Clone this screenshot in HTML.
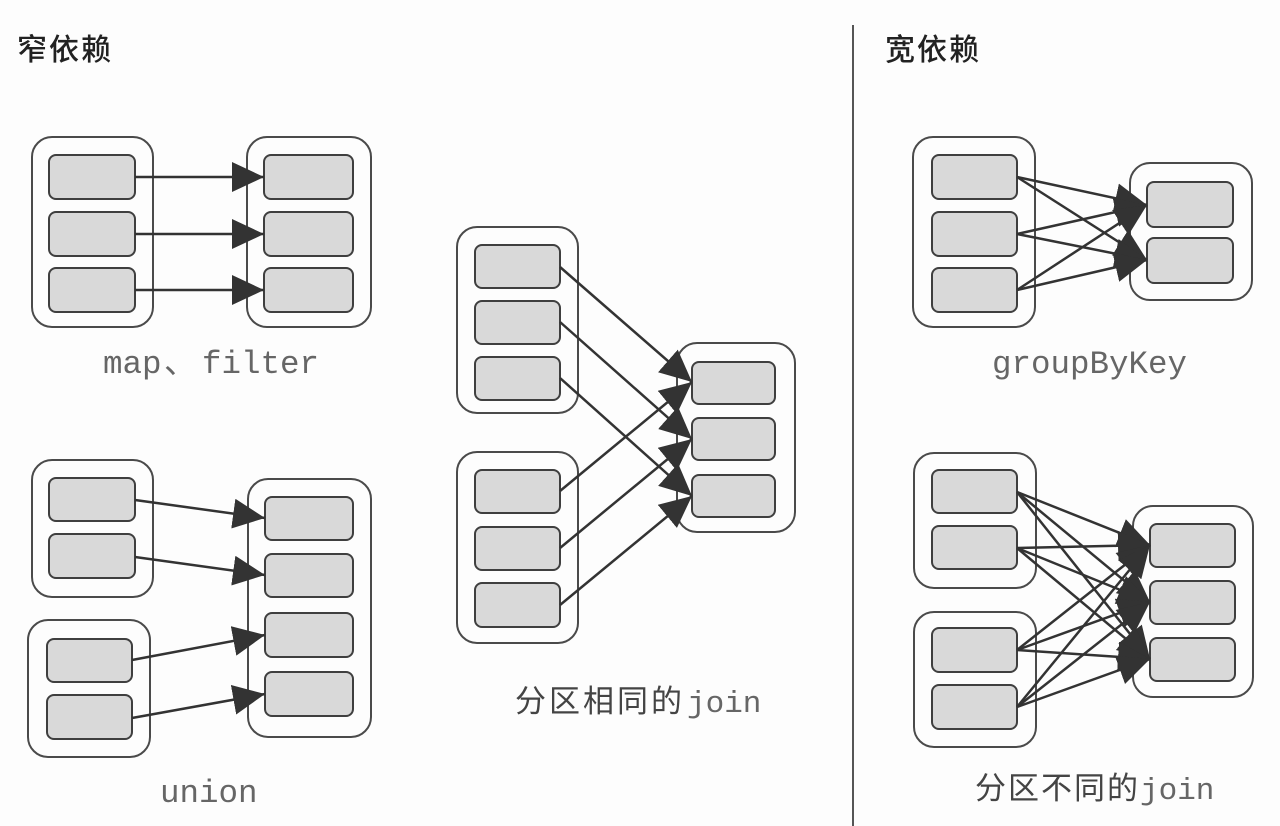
<!DOCTYPE html>
<html>
<head>
<meta charset="utf-8">
<style>
  html,body{margin:0;padding:0;background:#fdfdfd;}
  svg{display:block;}
  .ob{fill:#fdfdfd;stroke:#4a4a4a;stroke-width:2;}
  .ib{fill:#d9d9d9;stroke:#3f3f3f;stroke-width:2;}
  .ar{stroke:#333;stroke-width:2.5;fill:none;marker-end:url(#ah);}
  .ttl{font-family:"Liberation Sans","Noto Sans CJK SC",sans-serif;font-size:30px;fill:#222;letter-spacing:2px;font-weight:500;}
  .mono{font-family:"Liberation Mono","Noto Sans CJK SC",monospace;font-size:32.5px;fill:#666;}
  .cjk{font-family:"Liberation Sans","Noto Sans CJK SC",sans-serif;font-size:31px;fill:#444;}
</style>
</head>
<body>
<svg width="1280" height="826" viewBox="0 0 1280 826" xmlns="http://www.w3.org/2000/svg">
  <defs>
    <marker id="ah" markerUnits="userSpaceOnUse" markerWidth="34" markerHeight="32" refX="32" refY="15" orient="auto">
      <path d="M0,0 L32,15 L0,30 Z" fill="#333"/>
    </marker>
  </defs>

  <!-- titles -->
  <text class="ttl" x="17" y="60">窄依赖</text>
  <text class="ttl" x="885" y="60">宽依赖</text>

  <!-- divider -->
  <line x1="853" y1="25" x2="853" y2="826" stroke="#555" stroke-width="2"/>

  <!-- ========== map, filter ========== -->
  <rect class="ob" x="32" y="137" width="121" height="190" rx="20"/>
  <rect class="ob" x="247" y="137" width="124" height="190" rx="20"/>
  <rect class="ib" x="49" y="155" width="86" height="44" rx="7"/>
  <rect class="ib" x="49" y="212" width="86" height="44" rx="7"/>
  <rect class="ib" x="49" y="268" width="86" height="44" rx="7"/>
  <rect class="ib" x="264" y="155" width="89" height="44" rx="7"/>
  <rect class="ib" x="264" y="212" width="89" height="44" rx="7"/>
  <rect class="ib" x="264" y="268" width="89" height="44" rx="7"/>
  <line class="ar" x1="135" y1="177" x2="264" y2="177"/>
  <line class="ar" x1="135" y1="234" x2="264" y2="234"/>
  <line class="ar" x1="135" y1="290" x2="264" y2="290"/>
  <text class="mono" y="373"><tspan x="103">map</tspan><tspan x="164">、</tspan><tspan x="202">filter</tspan></text>

  <!-- ========== union ========== -->
  <rect class="ob" x="32" y="460" width="121" height="137" rx="20"/>
  <rect class="ob" x="28" y="620" width="122" height="137" rx="20"/>
  <rect class="ob" x="248" y="479" width="123" height="258" rx="20"/>
  <rect class="ib" x="49" y="478" width="86" height="43" rx="7"/>
  <rect class="ib" x="49" y="534" width="86" height="44" rx="7"/>
  <rect class="ib" x="47" y="639" width="85" height="43" rx="7"/>
  <rect class="ib" x="47" y="695" width="85" height="44" rx="7"/>
  <rect class="ib" x="265" y="497" width="88" height="43" rx="7"/>
  <rect class="ib" x="265" y="554" width="88" height="43" rx="7"/>
  <rect class="ib" x="265" y="613" width="88" height="44" rx="7"/>
  <rect class="ib" x="265" y="672" width="88" height="44" rx="7"/>
  <line class="ar" x1="135" y1="500" x2="265" y2="518"/>
  <line class="ar" x1="135" y1="557" x2="265" y2="575"/>
  <line class="ar" x1="132" y1="660" x2="265" y2="635"/>
  <line class="ar" x1="132" y1="718" x2="265" y2="694"/>
  <text class="mono" x="160" y="802">union</text>

  <!-- ========== join same partition ========== -->
  <rect class="ob" x="457" y="227" width="121" height="186" rx="20"/>
  <rect class="ob" x="457" y="452" width="121" height="191" rx="20"/>
  <rect class="ob" x="677" y="343" width="118" height="189" rx="20"/>
  <rect class="ib" x="475" y="245" width="85" height="43" rx="7"/>
  <rect class="ib" x="475" y="301" width="85" height="43" rx="7"/>
  <rect class="ib" x="475" y="357" width="85" height="43" rx="7"/>
  <rect class="ib" x="475" y="470" width="85" height="43" rx="7"/>
  <rect class="ib" x="475" y="527" width="85" height="43" rx="7"/>
  <rect class="ib" x="475" y="583" width="85" height="44" rx="7"/>
  <rect class="ib" x="692" y="362" width="83" height="42" rx="7"/>
  <rect class="ib" x="692" y="418" width="83" height="42" rx="7"/>
  <rect class="ib" x="692" y="475" width="83" height="42" rx="7"/>
  <line class="ar" x1="560" y1="267" x2="692" y2="382"/>
  <line class="ar" x1="560" y1="322" x2="692" y2="439"/>
  <line class="ar" x1="560" y1="378" x2="692" y2="496"/>
  <line class="ar" x1="560" y1="491" x2="692" y2="382"/>
  <line class="ar" x1="560" y1="548" x2="692" y2="439"/>
  <line class="ar" x1="560" y1="605" x2="692" y2="496"/>
  <text class="cjk" y="712"><tspan x="515" letter-spacing="3">分区相同的</tspan><tspan class="mono" x="687" style="font-size:31px">join</tspan></text>

  <!-- ========== groupByKey ========== -->
  <rect class="ob" x="913" y="137" width="122" height="190" rx="20"/>
  <rect class="ob" x="1130" y="163" width="122" height="137" rx="20"/>
  <rect class="ib" x="932" y="155" width="85" height="44" rx="7"/>
  <rect class="ib" x="932" y="212" width="85" height="44" rx="7"/>
  <rect class="ib" x="932" y="268" width="85" height="44" rx="7"/>
  <rect class="ib" x="1147" y="182" width="86" height="45" rx="7"/>
  <rect class="ib" x="1147" y="238" width="86" height="45" rx="7"/>
  <line class="ar" x1="1017" y1="177" x2="1147" y2="205"/>
  <line class="ar" x1="1017" y1="177" x2="1147" y2="260"/>
  <line class="ar" x1="1017" y1="234" x2="1147" y2="205"/>
  <line class="ar" x1="1017" y1="234" x2="1147" y2="260"/>
  <line class="ar" x1="1017" y1="290" x2="1147" y2="205"/>
  <line class="ar" x1="1017" y1="290" x2="1147" y2="260"/>
  <text class="mono" x="992" y="373">groupByKey</text>

  <!-- ========== join different partition ========== -->
  <rect class="ob" x="914" y="453" width="122" height="135" rx="20"/>
  <rect class="ob" x="914" y="612" width="122" height="135" rx="20"/>
  <rect class="ob" x="1133" y="506" width="120" height="191" rx="20"/>
  <rect class="ib" x="932" y="470" width="85" height="43" rx="7"/>
  <rect class="ib" x="932" y="526" width="85" height="43" rx="7"/>
  <rect class="ib" x="932" y="628" width="85" height="44" rx="7"/>
  <rect class="ib" x="932" y="685" width="85" height="44" rx="7"/>
  <rect class="ib" x="1150" y="524" width="85" height="43" rx="7"/>
  <rect class="ib" x="1150" y="581" width="85" height="43" rx="7"/>
  <rect class="ib" x="1150" y="638" width="85" height="43" rx="7"/>
  <line class="ar" x1="1017" y1="492" x2="1150" y2="545"/>
  <line class="ar" x1="1017" y1="492" x2="1150" y2="602"/>
  <line class="ar" x1="1017" y1="492" x2="1150" y2="659"/>
  <line class="ar" x1="1017" y1="548" x2="1150" y2="545"/>
  <line class="ar" x1="1017" y1="548" x2="1150" y2="602"/>
  <line class="ar" x1="1017" y1="548" x2="1150" y2="659"/>
  <line class="ar" x1="1017" y1="650" x2="1150" y2="545"/>
  <line class="ar" x1="1017" y1="650" x2="1150" y2="602"/>
  <line class="ar" x1="1017" y1="650" x2="1150" y2="659"/>
  <line class="ar" x1="1017" y1="707" x2="1150" y2="545"/>
  <line class="ar" x1="1017" y1="707" x2="1150" y2="602"/>
  <line class="ar" x1="1017" y1="707" x2="1150" y2="659"/>
  <text class="cjk" y="799"><tspan x="975" letter-spacing="2">分区不同的</tspan><tspan class="mono" x="1140" style="font-size:31px">join</tspan></text>
</svg>
</body>
</html>
